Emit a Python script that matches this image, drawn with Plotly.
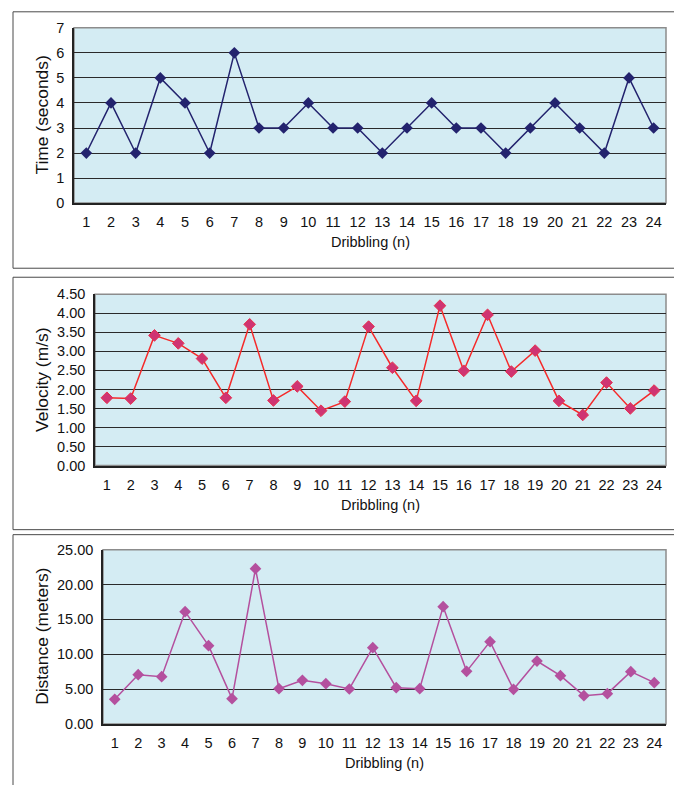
import plotly.graph_objects as go

W, H = 674, 785
# measured vertical mapping of the rendered page: shown_y = Y_OFF + Y_SCALE * figure_y
Y_OFF, Y_SCALE = 8.2, 0.978

dribbling = list(range(1, 25))
time_s = [2, 4, 2, 5, 4, 2, 6, 3, 3, 4, 3, 3, 2, 3, 4, 3, 3, 2, 3, 4, 3, 2, 5, 3]
velocity = [1.78, 1.76, 3.42, 3.21, 2.81, 1.78, 3.71, 1.71, 2.08, 1.44, 1.68, 3.65,
            2.57, 1.70, 4.20, 2.49, 3.96, 2.47, 3.02, 1.70, 1.33, 2.18, 1.50, 1.97]
distance = [3.54, 7.07, 6.79, 16.11, 11.23, 3.63, 22.28, 5.07, 6.26, 5.78, 5.02, 10.95,
            5.21, 5.07, 16.83, 7.55, 11.81, 4.97, 9.03, 6.93, 4.06, 4.35, 7.50, 5.93]

y_titles = ["Time (seconds)", "Velocity (m/s)", "Distance (meters)"]
x_title = "Dribbling (n)"

def px_x(p):
    return p / W

def px_y(p):
    return 1 - ((p - Y_OFF) / Y_SCALE) / H

areas = [(74, 666, 28, 203), (95, 666, 294, 465), (103, 666, 549, 723)]
panels = [(13, 690, 12, 268), (13, 690, 277, 529), (13, 690, 534, 820)]

BG = "#D4ECF3"
FONT = "Liberation Sans, Arial, sans-serif"
TICK = 14.5
YT = 17.4

fig = go.Figure()

fig.add_trace(go.Scatter(
    x=dribbling, y=time_s, mode="lines+markers", xaxis="x", yaxis="y",
    line=dict(color="#23236E", width=1.5),
    marker=dict(symbol="diamond", size=9, color="#23236E"),
    showlegend=False))
fig.add_trace(go.Scatter(
    x=dribbling, y=velocity, mode="lines+markers", xaxis="x2", yaxis="y2",
    line=dict(color="#F52A2A", width=1.5),
    marker=dict(symbol="diamond", size=9, color="#CF3472",
                line=dict(color="#E8304E", width=1)),
    showlegend=False))
fig.add_trace(go.Scatter(
    x=dribbling, y=distance, mode="lines+markers", xaxis="x3", yaxis="y3",
    line=dict(color="#B4509E", width=1.5),
    marker=dict(symbol="diamond", size=9, color="#B4509E"),
    showlegend=False))

y_specs = [
    dict(range=[0, 7], dtick=1, tickformat="d"),
    dict(range=[0, 4.5], dtick=0.5, tickformat=".2f"),
    dict(range=[0, 25], dtick=5, tickformat=".2f"),
]

layout = dict(
    width=W, height=H,
    margin=dict(l=0, r=0, t=0, b=0),
    paper_bgcolor="white",
    font=dict(family=FONT, size=TICK, color="#111"),
    shapes=[], annotations=[],
)

for i, ((l, r, t, b), ys) in enumerate(zip(areas, y_specs)):
    sx = "" if i == 0 else str(i + 1)
    layout["xaxis" + sx] = dict(
        domain=[px_x(l), px_x(r)], anchor="y" + sx,
        range=[0.5, 24.5], tickmode="array", tickvals=dribbling,
        ticktext=[str(d) for d in dribbling],
        showgrid=False, zeroline=False, showline=True, linecolor="#222", linewidth=1.5,
        ticks="outside", ticklen=5, tickcolor="rgba(0,0,0,0)",
        tickfont=dict(family=FONT, size=TICK, color="#111"), fixedrange=True)
    layout["yaxis" + sx] = dict(
        domain=[px_y(b), px_y(t)], anchor="x" + sx,
        range=ys["range"], dtick=ys["dtick"], tickformat=ys["tickformat"],
        showgrid=True, gridcolor="#2A2A2A", gridwidth=1.3,
        zeroline=False, showline=True, linecolor="#222", linewidth=1.5,
        ticks="outside", ticklen=5, tickcolor="rgba(0,0,0,0)",
        tickfont=dict(family=FONT, size=TICK, color="#111"), fixedrange=True)
    layout["shapes"].append(dict(
        type="rect", xref="paper", yref="paper",
        x0=px_x(l), x1=px_x(r), y0=px_y(b), y1=px_y(t),
        fillcolor=BG, line=dict(color="#8C8C8C", width=1.5), layer="below"))
    layout["annotations"].append(dict(
        text=y_titles[i], textangle=-90, xref="paper", yref="paper",
        x=px_x(42), y=px_y((t + b) / 2), xanchor="center", yanchor="middle",
        showarrow=False, font=dict(family=FONT, size=YT, color="#111")))
    layout["annotations"].append(dict(
        text=x_title, xref="paper", yref="paper",
        x=px_x((l + r) / 2), y=px_y(b + 39), xanchor="center", yanchor="middle",
        showarrow=False, font=dict(family=FONT, size=TICK, color="#111")))

for (l, r, t, b) in panels:
    layout["shapes"].append(dict(
        type="rect", xref="paper", yref="paper",
        x0=px_x(l), x1=px_x(r), y0=px_y(b), y1=px_y(t),
        fillcolor="rgba(0,0,0,0)", line=dict(color="#4A4A4A", width=1), layer="below"))

fig.update_layout(**layout)
fig.write_html("out.html")
